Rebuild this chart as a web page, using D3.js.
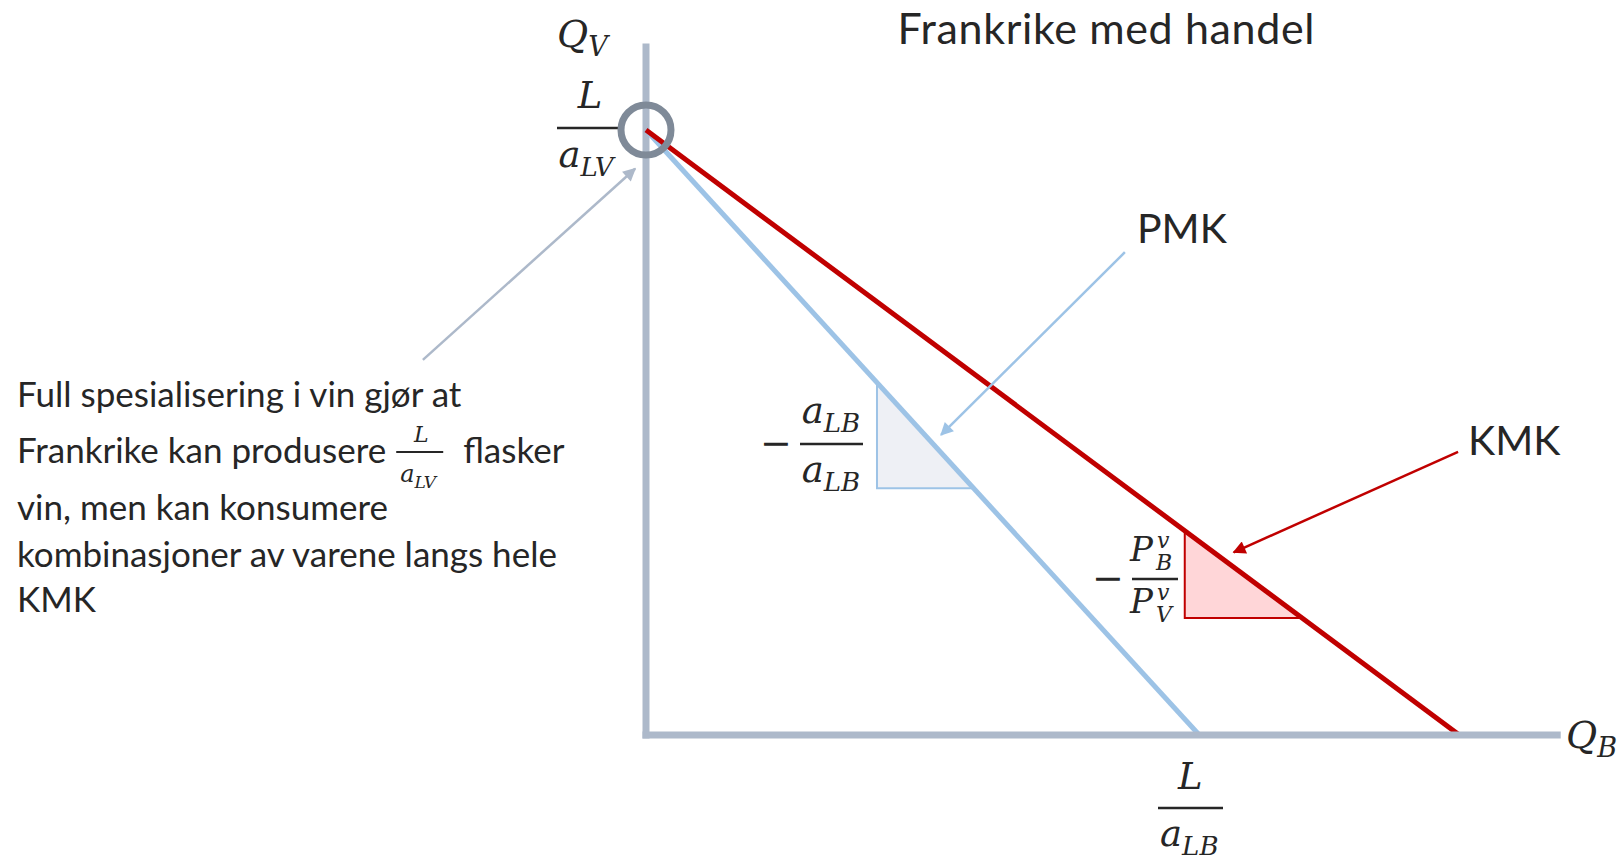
<!DOCTYPE html>
<html>
<head>
<meta charset="utf-8">
<script src="https://cdn.jsdelivr.net/npm/d3@7"></script>
<style>
  html, body { margin: 0; padding: 0; background: #fff; }
  svg { display: block; }
  .txt { font-family: Lato, "Open Sans", sans-serif; fill: #262626; }
  .math { font-family: "DejaVu Serif", serif; font-style: italic; fill: #262626; }
  .op { font-family: "DejaVu Serif", serif; fill: #262626; }
</style>
</head>
<body>
<div id="viz"></div>
<script>
// model values, same unit on both axes
const qvMax = 10;            // L / aLV
const ppfQb = 9.15;          // L / aLB (PMK)
const kmkQb = 13.45;         // end of KMK on the Qb axis
const axisEnd = [15.07, 11.37];
const ppfTriangle = [3.82, 5.42];
const kmkTriangle = [8.91, 10.85];
const pmkArrow = [[7.92, 7.98], [4.88, 4.96]];
const kmkArrow = [[13.43, 4.68], [9.72, 3.02]];
const noteArrow = [[-3.69, 6.2], [-0.18, 9.36]];

const title = "Frankrike med handel";
const lineLabels = ["PMK", "KMK"];
const noteLines = [
  "Full spesialisering i vin gjør at",
  "Frankrike kan produsere",
  "vin, men kan konsumere",
  "kombinasjoner av varene langs hele",
  "KMK",
];
const noteAfterFrac = "flasker";

const width = 1622, height = 862;
const blue = "#9dc3e6", red = "#c00000", axisCol = "#adb9ca";

const svg = d3.select("#viz").append("svg")
  .attr("width", width)
  .attr("height", height);

const x = d3.scaleLinear().domain([0, 15]).range([646, 1553]);
const y = d3.scaleLinear().domain([0, 10]).range([735, 130]);

// arrow heads
const defs = svg.append("defs");
[["head-blue", blue], ["head-red", red], ["head-axis", axisCol]].forEach(([id, c]) => {
  defs.append("marker")
    .attr("id", id)
    .attr("viewBox", "0 0 10 10")
    .attr("refX", 9)
    .attr("refY", 5)
    .attr("markerWidth", 17)
    .attr("markerHeight", 13)
    .attr("markerUnits", "userSpaceOnUse")
    .attr("orient", "auto")
    .append("path")
    .attr("d", "M0,0 L10,5 L0,10 z")
    .attr("fill", c);
});

const line = d3.line().x((d) => x(d[0])).y((d) => y(d[1]));

// vertical axis
svg.append("line")
  .attr("x1", x(0)).attr("x2", x(0))
  .attr("y1", y(axisEnd[1])).attr("y2", y(0))
  .attr("stroke", axisCol)
  .attr("stroke-width", 7)
  .attr("stroke-linecap", "square");

// slope triangles
function qv(b, q) { return qvMax * (1 - q / b); }
function triangle(b, t) {
  return [[t[0], qv(b, t[0])], [t[0], qv(b, t[1])], [t[1], qv(b, t[1])]];
}
svg.append("path")
  .datum(triangle(ppfQb, ppfTriangle))
  .attr("d", (d) => line(d) + "Z")
  .attr("fill", "#eef0f5")
  .attr("stroke", blue)
  .attr("stroke-width", 2);
svg.append("path")
  .datum(triangle(kmkQb, kmkTriangle))
  .attr("d", (d) => line(d) + "Z")
  .attr("fill", "#ffd6d8")
  .attr("stroke", red)
  .attr("stroke-width", 2);

// PMK and KMK
svg.append("path")
  .datum([[0, qvMax], [ppfQb, 0]])
  .attr("d", line)
  .attr("fill", "none")
  .attr("stroke", blue)
  .attr("stroke-width", 5);
svg.append("path")
  .datum([[0, qvMax], [kmkQb, 0]])
  .attr("d", line)
  .attr("fill", "none")
  .attr("stroke", red)
  .attr("stroke-width", 5);

// horizontal axis
svg.append("line")
  .attr("x1", x(0)).attr("x2", x(axisEnd[0]))
  .attr("y1", y(0)).attr("y2", y(0))
  .attr("stroke", axisCol)
  .attr("stroke-width", 7)
  .attr("stroke-linecap", "square");

// annotation arrows
[[pmkArrow, blue, "head-blue"], [kmkArrow, red, "head-red"], [noteArrow, axisCol, "head-axis"]]
  .forEach(([a, c, m]) => {
    svg.append("path")
      .datum(a)
      .attr("d", line)
      .attr("stroke", c)
      .attr("stroke-width", 2.5)
      .attr("marker-end", `url(#${m})`);
  });

function fracBar(x1, x2, yy, w) {
  svg.append("line")
    .attr("x1", x1).attr("x2", x2)
    .attr("y1", yy).attr("y2", yy)
    .attr("stroke", "#262626")
    .attr("stroke-width", w || 2.5);
}
// fraction line of the top-left label, partly hidden by the circle
fracBar(557, 624, y(qvMax) - 2);

// circle at full specialisation
svg.append("circle")
  .attr("cx", x(0))
  .attr("cy", y(qvMax))
  .attr("r", 25)
  .attr("fill", "none")
  .attr("stroke", "#7f8a98")
  .attr("stroke-width", 7);

// math label: main letter + subscript
function math(px, py, main, sub, size, subSize, anchor) {
  const t = svg.append("text")
    .attr("class", "math")
    .attr("x", px)
    .attr("y", py)
    .attr("font-size", size)
    .attr("text-anchor", anchor || "middle");
  t.append("tspan").text(main);
  if (sub) t.append("tspan").attr("font-size", subSize).attr("dy", size * 0.24).text(sub);
  return t;
}
// P with stacked superscript and subscript
function priceP(px, py, sub) {
  const t = svg.append("text")
    .attr("class", "math")
    .attr("x", px)
    .attr("y", py)
    .attr("font-size", 34);
  t.append("tspan").text("P");
  t.append("tspan").attr("x", px + 27).attr("y", py - 13).attr("font-size", 22).text("v");
  t.append("tspan").attr("x", px + 26).attr("y", py + 9).attr("font-size", 22).text(sub);
}

// title and labels
svg.append("text")
  .attr("class", "txt")
  .attr("x", 1106)
  .attr("y", 44)
  .attr("font-size", 43)
  .attr("text-anchor", "middle")
  .attr("textLength", 417)
  .attr("lengthAdjust", "spacing")
  .text(title);

svg.selectAll(".linelabel")
  .data(lineLabels)
  .join("text")
  .attr("class", "txt linelabel")
  .attr("x", (d, i) => [1137, 1468][i])
  .attr("y", (d, i) => [243, 455][i])
  .attr("font-size", 41)
  .text((d) => d);

// axis names
math(557, 47, "Q", "V", 38, 27, "start");
math(1566, 748, "Q", "B", 38, 27, "start");

// L / aLV at the top of the Qv axis
math(590, 108, "L", null, 37);
math(586, 167, "a", "LV", 37, 26);

// L / aLB under the Qb axis
math(x(ppfQb) - 9, 789, "L", null, 37);
fracBar(1158, 1223, 808);
math(x(ppfQb) - 10, 846, "a", "LB", 37, 26);

// - aLB / aLB by the PMK triangle
svg.append("text").attr("class", "op")
  .attr("x", 776).attr("y", 456).attr("font-size", 38)
  .attr("text-anchor", "middle").text("−");
fracBar(800, 863, 444);
math(831, 423, "a", "LB", 37, 26);
math(831, 482, "a", "LB", 37, 26);

// - PBv / PVv by the KMK triangle
svg.append("text").attr("class", "op")
  .attr("x", 1108).attr("y", 591).attr("font-size", 38)
  .attr("text-anchor", "middle").text("−");
fracBar(1132, 1178, 579);
priceP(1130, 561, "B");
priceP(1130, 613, "V");

// explanatory note
const noteSize = 35;
const noteY = [407, 463, 520, 567, 612];
const note = svg.append("g");
note.selectAll("text")
  .data(noteLines)
  .join("text")
  .attr("class", "txt")
  .attr("x", 17)
  .attr("y", (d, i) => noteY[i])
  .attr("font-size", noteSize)
  .text((d) => d);

const l2 = note.selectAll("text").filter((d, i) => i === 1).node().getComputedTextLength();
const fx = 17 + l2 + 10;
math(fx + 25, 442, "L", null, 22);
fracBar(fx, fx + 47, 452, 2);
math(fx + 22, 482, "a", "LV", 24, 17);
svg.append("text")
  .attr("class", "txt")
  .attr("x", fx + 67)
  .attr("y", noteY[1])
  .attr("font-size", noteSize)
  .text(noteAfterFrac);
</script>
</body>
</html>
